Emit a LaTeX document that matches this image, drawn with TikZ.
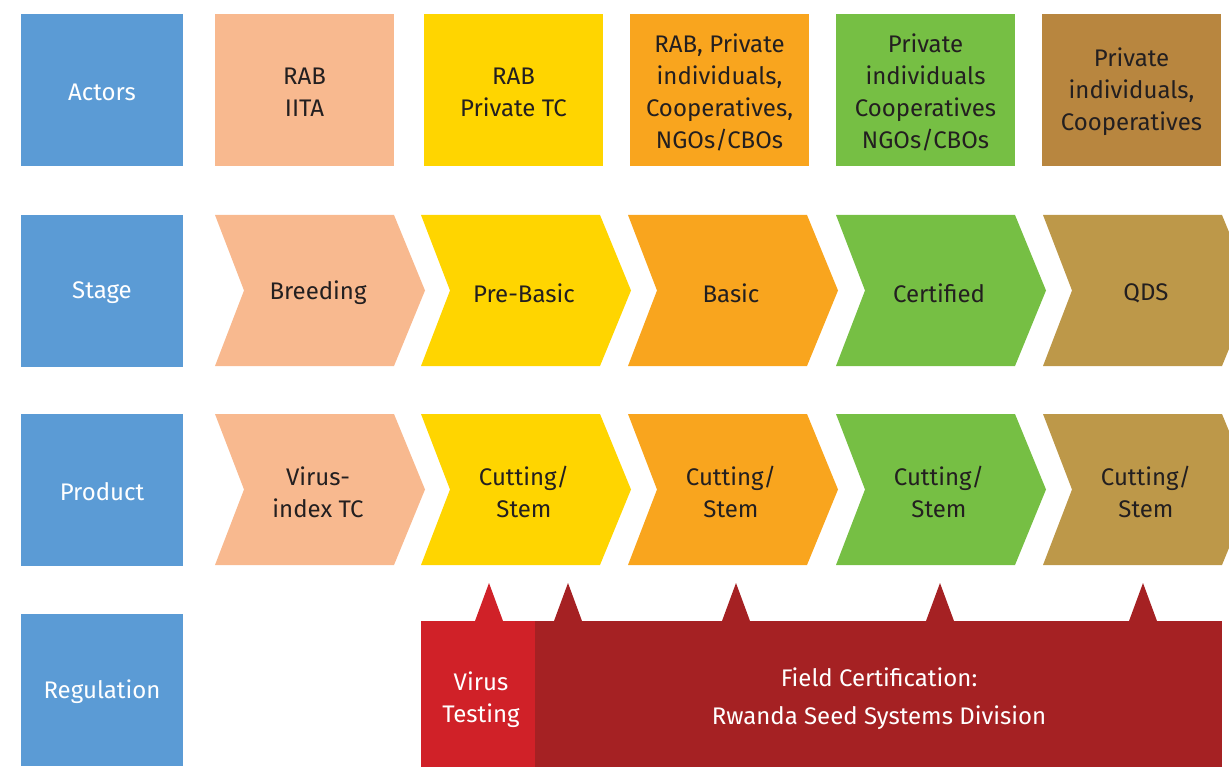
\documentclass[tikz,border=0pt]{standalone}
\usepackage{fontspec}
\setmainfont{Fira Sans}
\begin{document}
\begin{tikzpicture}[x=1pt,y=-1pt,
  lbl/.style={font=\fontsize{24}{32}\selectfont, align=center, text=txt, inner sep=0},
  wlbl/.style={lbl, text=white}]
\definecolor{blue1}{HTML}{5B9BD5}
\definecolor{peach}{HTML}{F8B98F}
\definecolor{yel}{HTML}{FFD500}
\definecolor{ora}{HTML}{F9A51E}
\definecolor{grn}{HTML}{76BF44}
\definecolor{brn}{HTML}{BD9849}
\definecolor{brnA}{HTML}{B8863F}
\definecolor{red1}{HTML}{D02128}
\definecolor{red2}{HTML}{A52123}
\definecolor{txt}{HTML}{231F20}
\useasboundingbox (0,0) rectangle (1229,767);
% header boxes
\foreach \y/\n/\t in {14/actors/Actors,215/stage/Stage,414/product/Product,614/regulation/Regulation}{
  \fill[blue1] (21,\y) rectangle (183,\y+152);
  \node[wlbl] (\n) at (102,\y+78) {\t};
}
% actor boxes
\foreach \x/\c/\n/\t in {215/peach/a1/{RAB\\IITA},424/yel/a2/{RAB\\Private TC},630/ora/a3/{RAB, Private\\individuals,\\Cooperatives,\\NGOs/CBOs},836/grn/a4/{Private\\individuals\\Cooperatives\\NGOs/CBOs},1042/brnA/a5/{Private\\individuals,\\Cooperatives}}{
  \fill[\c] (\x,14) rectangle (\x+179,166);
  \node[lbl] (\n) at (\x+89.5,92) {\t};
}
% chevrons
\foreach \L/\c/\n/\s/\p in {215/peach/1/Breeding/{Virus-\\index TC},421/yel/2/Pre-Basic/{Cutting/\\Stem},628/ora/3/Basic/{Cutting/\\Stem},836/grn/4/Certified/{Cutting/\\Stem},1043/brn/5/QDS/{Cutting/\\Stem}}{
  \foreach \y/\r/\t in {215/s/\s,414/p/\p}{
    \fill[\c] (\L,\y) -- (\L+179,\y) -- (\L+210,\y+75.5) -- (\L+179,\y+151) -- (\L,\y+151) -- (\L+29,\y+75.5) -- cycle;
    \node[lbl] (\r\n) at (\L+103,\y+78) {\t};
  }
}
% regulation
\fill[red2] (535,621) rectangle (1222,767);
\fill[red1] (421,621) rectangle (535,767);
\fill[red1] (475,621) -- (489,583) -- (503,621) -- cycle;
\foreach \x in {568,736,940,1143}{
  \fill[red2] (\x-14,621) -- (\x,583) -- (\x+14,621) -- cycle;
}
\node[wlbl] (vt) at (481,700) {Virus\\Testing};
\node[wlbl, font=\fontsize{24}{38}\selectfont] (fc) at (879,699) {Field Certification:\\Rwanda Seed Systems Division};
\end{tikzpicture}
\end{document}
